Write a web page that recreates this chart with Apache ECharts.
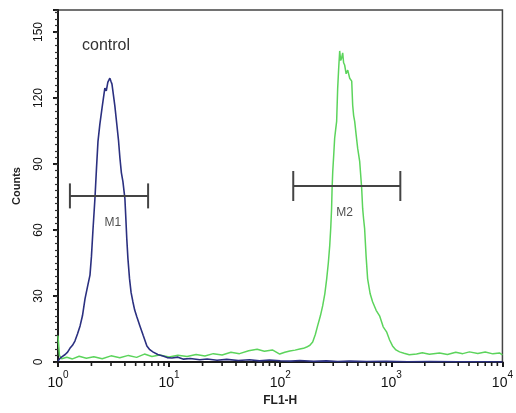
<!DOCTYPE html>
<html>
<head>
<meta charset="utf-8">
<script src="https://cdn.jsdelivr.net/npm/echarts@6/dist/echarts.min.js"></script>
<style>
  html, body { margin: 0; padding: 0; background: #fff; }
  #chart { width: 516px; height: 413px; }
</style>
</head>
<body>
<div id="chart"></div>
<script>
// control histogram (blue) - FL1-H value / count
const controlX = [1.00, 1.04, 1.09, 1.16, 1.22, 1.28, 1.35, 1.42, 1.50, 1.58, 1.66, 1.75, 1.86, 1.94, 2.00, 2.06, 2.15, 2.22, 2.29, 2.38,
  2.49, 2.58, 2.64, 2.72, 2.81, 2.93, 3.00, 3.06, 3.12, 3.25, 3.39, 3.50, 3.61, 3.72, 3.84, 4.00, 4.08, 4.16, 4.26, 4.40,
  4.55, 4.72, 4.90, 5.13, 5.46, 5.85, 6.31, 6.70, 7.14, 7.90, 8.79, 9.60, 10.6, 12.0, 13.5, 15.5, 18.9, 22, 27, 33,
  42, 53, 65, 80, 100, 125, 150, 200, 260, 330, 420, 600, 900, 1400, 2200, 4000, 7000, 10000];
const controlY = [0.5, 1.6, 2.4, 3.4, 4.5, 6.2, 7.6, 9.5, 12.8, 16.4, 21.0, 28.7, 35.2, 39.5, 48.0, 59.3, 74.3, 88.0, 100.3, 108.0,
  115.4, 121.0, 124.5, 123.2, 127.2, 129.0, 127.5, 126.3, 123.1, 116.3, 107.6, 101.0, 92.6, 86.0, 82.0, 74.3, 65.2, 56.0, 47.0, 38.0,
  31.5, 27.4, 23.6, 20.5, 16.4, 12.0, 7.3, 5.6, 4.6, 3.4, 2.7, 2.0, 1.8, 2.2, 1.3, 1.6, 1.0, 1.4, 0.8, 1.2,
  0.7, 1.0, 0.5, 0.9, 0.6, 0.4, 0.7, 0.3, 0.5, 0.2, 0.4, 0.2, 0.3, 0.1, 0.2, 0.1, 0.1, 0];

// sample histogram (green)
const sampleX = [1.00, 1.03, 1.08, 1.20, 1.35, 1.55, 1.80, 2.10, 2.50, 3.00, 3.60, 4.30, 5.10, 6.00, 7.00, 8.20, 10.0, 12.0, 14.5, 17.5,
  21, 25, 30, 36, 43, 52, 62, 72, 85, 99, 110, 122, 136, 150, 162, 173, 185, 196, 207, 217,
  230, 241, 252, 262, 271, 279, 285, 290, 293, 297, 303, 309, 316, 322, 329, 336, 343, 350, 357, 365,
  372, 380, 392, 405, 422, 440, 449, 458, 468, 483, 498, 519, 530, 541, 552, 563, 575, 593, 612, 645,
  678, 730, 784, 845, 906, 965, 1025, 1100, 1186, 1300, 1450, 1687, 1900, 2200, 2716, 3200, 3800, 4400, 5050, 6000,
  7000, 8200, 9400, 10000];
const sampleY = [12, 3, 1.5, 2.2, 1.4, 2.6, 1.7, 2.4, 1.5, 2.8, 1.9, 3.0, 2.1, 3.6, 2.5, 3.2, 2.3, 3.1, 2.5, 3.4,
  2.7, 3.8, 3.2, 4.4, 3.8, 5.1, 5.8, 4.9, 5.5, 3.6, 4.4, 5.0, 5.4, 5.9, 6.2, 6.8, 7.6, 9.1, 12.5, 16.4,
  21.0, 25.5, 31.0, 37.8, 45.0, 52.9, 61.0, 69.8, 78.9, 86.6, 94.0, 101.7, 106.0, 109.4, 124.5, 133.6, 141.4, 137.0, 138.2, 140.5,
  136.0, 135.0, 131.0, 132.7, 129.0, 127.7, 116.7, 112.0, 109.4, 103.0, 97.1, 91.2, 85.0, 78.9, 69.8, 65.0, 60.6, 48.0, 37.8, 31.0,
  27.4, 23.5, 21.0, 16.0, 13.7, 10.0, 7.3, 5.5, 4.6, 4.0, 3.3, 3.6, 4.2, 3.5, 4.1, 3.4, 4.4, 3.8, 4.6, 3.9,
  4.5, 3.7, 4.1, 3.2];

// marker gates
const gateNames = ['M1', 'M2'];
const gateFrom = [1.28, 131];
const gateTo = [6.47, 1205];
const gateLevel = [75.5, 80];
const gateLabelX = [3.12, 380];
const gateLabelY = [63.5, 68];

// log-scale minor tick positions on FL1-H axis
const xMinorTicks = [2, 3, 4, 5, 6, 7, 8, 9, 20, 30, 40, 50, 60, 70, 80, 90,
  200, 300, 400, 500, 600, 700, 800, 900, 2000, 3000, 4000, 5000, 6000, 7000, 8000, 9000];

const pairs = (xs, ys) => xs.map((x, i) => [x, ys[i]]);
const font = '"Liberation Sans Narrow", "Liberation Sans", Arial, sans-serif';

const chart = echarts.init(document.getElementById('chart'));

const gateSeries = [];
gateNames.forEach((name, i) => {
  gateSeries.push({
    type: 'line',
    data: [[gateFrom[i], gateLevel[i]], [gateTo[i], gateLevel[i]]],
    symbol: 'rect',
    symbolSize: [2, i === 0 ? 25 : 30],
    showSymbol: true,
    itemStyle: { color: '#444' },
    lineStyle: { color: '#444', width: 2 },
    silent: true,
    z: 5
  });
  gateSeries.push({
    type: 'scatter',
    data: [[gateLabelX[i], gateLabelY[i]]],
    symbolSize: 0,
    label: {
      show: true,
      formatter: name,
      position: 'inside',
      color: '#222',
      fontFamily: font,
      fontSize: 12
    },
    silent: true,
    z: 6
  });
});

const option = {
  animation: false,
  backgroundColor: '#fff',
  title: {
    text: 'control',
    left: 77,
    top: 33,
    textStyle: { fontFamily: font, fontSize: 16, fontWeight: 'normal', color: '#333' }
  },
  grid: {
    left: 58, right: 11, top: 10, bottom: 51,
    show: true,
    borderColor: '#444',
    borderWidth: 1.5
  },
  xAxis: {
    type: 'log',
    logBase: 10,
    min: 1,
    max: 10000,
    name: 'FL1-H',
    nameLocation: 'middle',
    nameGap: 29,
    nameTextStyle: { fontFamily: font, fontSize: 12, color: '#222', fontWeight: 'bold' },
    axisLine: { lineStyle: { color: '#1a1a1a', width: 2 } },
    axisTick: { show: true, length: 5, inside: false, lineStyle: { color: '#1a1a1a', width: 2 } },
    splitLine: { show: false },
    axisLabel: {
      margin: 8,
      formatter: (v) => '{b|10}{s|' + Math.round(Math.log10(v)) + '}',
      rich: {
        b: { fontFamily: font, fontSize: 14, color: '#111', verticalAlign: 'bottom', lineHeight: 20 },
        s: { fontFamily: font, fontSize: 10, color: '#111', verticalAlign: 'top', lineHeight: 20 }
      }
    }
  },
  yAxis: [
    {
      type: 'value',
      position: 'left',
      min: 0,
      max: 160,
      interval: 30,
      name: 'Counts',
      nameLocation: 'middle',
      nameGap: 36,
      nameRotate: 90,
      nameTextStyle: { fontFamily: font, fontSize: 11, color: '#222', fontWeight: 'bold' },
      axisLine: { show: true, lineStyle: { color: '#1a1a1a', width: 2 } },
      axisTick: { show: true, length: 5, lineStyle: { color: '#1a1a1a', width: 2 } },
      splitLine: { show: false },
      axisLabel: {
        rotate: 90,
        margin: 13,
        fontFamily: font,
        fontSize: 12,
        color: '#111',
        formatter: (v) => (v % 30 === 0 ? String(v) : '')
      }
    },
    {
      type: 'value',
      position: 'left',
      offset: 0,
      min: 0,
      max: 160,
      interval: 3,
      axisLine: { show: false },
      axisTick: { show: true, length: 3, lineStyle: { color: '#333', width: 1.2 } },
      axisLabel: { show: false },
      splitLine: { show: false }
    }
  ],
  series: [
    {
      type: 'line',
      data: pairs(sampleX, sampleY),
      showSymbol: false,
      lineStyle: { color: '#5cd45c', width: 1.5 },
      silent: true,
      z: 3
    },
    {
      type: 'line',
      data: pairs(controlX, controlY),
      showSymbol: false,
      lineStyle: { color: '#2b3080', width: 1.6 },
      silent: true,
      z: 4
    },
    {
      type: 'custom',
      data: xMinorTicks.map((x) => [x, 0]),
      clip: false,
      silent: true,
      z: 7,
      renderItem: (params, api) => {
        const p = api.coord([api.value(0), api.value(1)]);
        return {
          type: 'line',
          shape: { x1: p[0], y1: p[1], x2: p[0], y2: p[1] + 4 },
          style: { stroke: '#1a1a1a', lineWidth: 1.6 }
        };
      }
    },
    ...gateSeries
  ]
};

chart.setOption(option);
</script>
</body>
</html>
